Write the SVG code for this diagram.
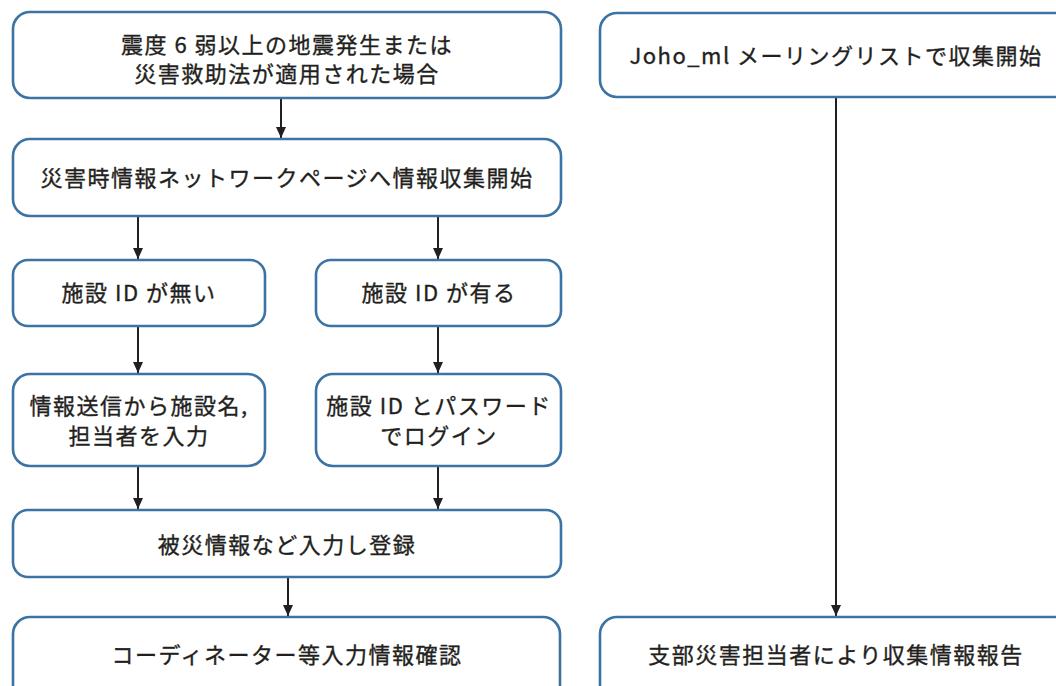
<svg xmlns="http://www.w3.org/2000/svg" width="1056" height="686" viewBox="0 0 1056 686">
<defs>
<marker id="ah" markerWidth="11" markerHeight="10" refX="11" refY="5" orient="auto" markerUnits="userSpaceOnUse" viewBox="0 0 11 10">
<path d="M0,0 L11,5 L0,10 Z" fill="#231f20"/>
</marker>
</defs>
<style>
.box{fill:#fff;stroke:#3b74a4;stroke-width:2.6}
.t{font-family:"Noto Sans CJK JP","Noto Sans",sans-serif;font-size:22px;font-weight:400;fill:#231f20;stroke:#231f20;stroke-width:0.35;text-anchor:middle;letter-spacing:1.5px}
.c{stroke:#231f20;stroke-width:2;fill:none;marker-end:url(#ah)}
</style>
<rect width="1056" height="686" fill="#fff"/>
<g id="connectors">
<line class="c" x1="281" y1="99" x2="281" y2="138"/>
<line class="c" x1="138" y1="217" x2="138" y2="259"/>
<line class="c" x1="438" y1="217" x2="438" y2="259"/>
<line class="c" x1="138" y1="327" x2="138" y2="373"/>
<line class="c" x1="438" y1="327" x2="438" y2="373"/>
<line class="c" x1="138" y1="467" x2="138" y2="509"/>
<line class="c" x1="438" y1="467" x2="438" y2="509"/>
<line class="c" x1="288" y1="578" x2="288" y2="616"/>
<line class="c" x1="836" y1="98" x2="836" y2="616"/>
</g>
<g id="n1"><rect class="box" x="13" y="12" width="548" height="86" rx="17"/>
<text class="t" x="287" y="53">震度 6 弱以上の地震発生または</text>
<text class="t" x="287" y="82">災害救助法が適用された場合</text></g>
<g id="n2"><rect class="box" x="13" y="139" width="548" height="77" rx="17"/>
<text class="t" x="287" y="186">災害時情報ネットワークページへ情報収集開始</text></g>
<g id="n3"><rect class="box" x="13" y="260" width="252" height="66" rx="15"/>
<text class="t" x="139" y="301">施設 ID が無い</text></g>
<g id="n4"><rect class="box" x="316" y="260" width="245" height="66" rx="15"/>
<text class="t" x="439" y="301">施設 ID が有る</text></g>
<g id="n5"><rect class="box" x="13" y="374" width="252" height="92" rx="17"/>
<text class="t" x="139" y="414">情報送信から施設名,</text>
<text class="t" x="139" y="444">担当者を入力</text></g>
<g id="n6"><rect class="box" x="316" y="374" width="245" height="92" rx="17"/>
<text class="t" x="439" y="414">施設 ID とパスワード</text>
<text class="t" x="439" y="444">でログイン</text></g>
<g id="n7"><rect class="box" x="13" y="510" width="548" height="67" rx="15"/>
<text class="t" x="287" y="553">被災情報など入力し登録</text></g>
<g id="n8"><rect class="box" x="13" y="617" width="547" height="90" rx="17"/>
<text class="t" x="287" y="663">コーディネーター等入力情報確認</text></g>
<g id="n9"><rect class="box" x="600" y="13" width="480" height="84" rx="17"/>
<text class="t" x="836" y="64">Joho_ml メーリングリストで収集開始</text></g>
<g id="n10"><rect class="box" x="600" y="617" width="480" height="90" rx="17"/>
<text class="t" x="836" y="663">支部災害担当者により収集情報報告</text></g>
</svg>
